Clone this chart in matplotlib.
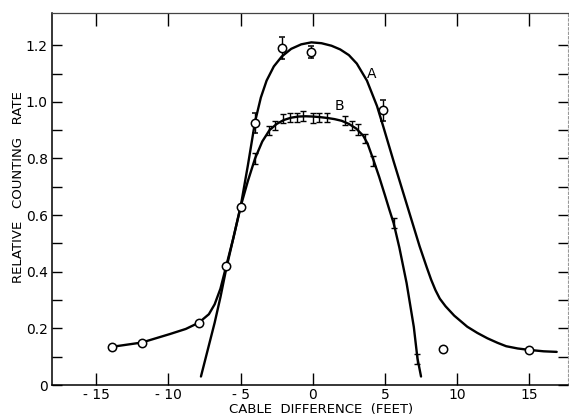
import numpy as np
import matplotlib.pyplot as plt

# measured points, curve A (open circles)
xa = [-13.9, -11.85, -7.9, -6.0, -5.0, -4.0, -2.1, -0.1, 4.85, 9.0, 15.0]
ya = [0.135, 0.15, 0.22, 0.42, 0.63, 0.925, 1.19, 1.175, 0.97, 0.128, 0.125]
ea = [0.008, 0.006, 0.0, 0.0, 0.0, 0.035, 0.04, 0.022, 0.037, 0.0, 0.0]

# measured points, curve B (error bars only)
xb = [-4.0, -3.0, -2.6, -2.05, -1.6, -1.1, -0.65, 0.0, 0.45, 0.95, 2.25, 2.7, 3.15, 3.6, 4.2, 5.6, 7.25]
yb = [0.80, 0.90, 0.918, 0.94, 0.945, 0.945, 0.95, 0.942, 0.945, 0.945, 0.935, 0.918, 0.902, 0.87, 0.79, 0.573, 0.092]
eb = [0.018, 0.016, 0.016, 0.016, 0.016, 0.016, 0.016, 0.018, 0.016, 0.016, 0.016, 0.016, 0.018, 0.016, 0.018, 0.018, 0.018]

# hand-fitted curves
ca_x = [-13.9, -11.85, -9.9, -8.8, -7.9, -7.2, -6.8, -6.4, -6.0, -5.5, -5.0, -4.5, -4.0, -3.6, -3.2, -2.7, -2.15,
        -1.5, -0.8, -0.1, 0.6, 1.3, 1.9, 2.5, 3.05, 3.75, 4.45, 4.9, 5.6, 6.2, 6.8, 7.4, 7.9, 8.2, 8.5, 8.8, 9.2,
        9.8, 10.7, 11.4, 12.1, 12.8, 13.4, 14.2, 15.0, 16.0, 16.9]
ca_y = [0.135, 0.15, 0.18, 0.198, 0.22, 0.25, 0.285, 0.34, 0.42, 0.52, 0.63, 0.775, 0.93, 1.015, 1.075, 1.125, 1.16,
        1.187, 1.203, 1.21, 1.207, 1.198, 1.185, 1.165, 1.135, 1.075, 0.985, 0.91, 0.79, 0.69, 0.59, 0.49, 0.415, 0.372,
        0.335, 0.305, 0.278, 0.245, 0.206, 0.184, 0.165, 0.149, 0.137, 0.129, 0.124, 0.119, 0.117]

cb_x = [-7.75, -7.3, -6.8, -6.4, -6.0, -5.5, -5.0, -4.5, -4.0, -3.5, -3.0, -2.5, -2.0, -1.5, -1.0, -0.5, 0.0,
        0.5, 1.0, 1.5, 2.0, 2.5, 3.0, 3.5, 3.8, 4.2, 4.6, 5.0, 5.3, 5.6, 6.0, 6.5, 7.0, 7.25, 7.5]
cb_y = [0.03, 0.12, 0.22, 0.31, 0.41, 0.52, 0.63, 0.72, 0.80, 0.86, 0.90, 0.922, 0.936, 0.944, 0.948, 0.949, 0.948,
        0.946, 0.943, 0.939, 0.933, 0.922, 0.906, 0.88, 0.852, 0.795, 0.735, 0.67, 0.62, 0.572, 0.485, 0.36,
        0.205, 0.095, 0.03]

plt.rcParams['font.family'] = 'DejaVu Sans'

fig = plt.figure(figsize=(5.69, 4.17), dpi=100)
ax = fig.add_axes([0.0914, 0.0767, 0.907, 0.891])

ax.plot(ca_x, ca_y, color='black', lw=1.7, solid_capstyle='round')
ax.plot(cb_x, cb_y, color='black', lw=1.7, solid_capstyle='round')

ax.errorbar(xb, yb, yerr=eb, fmt='none', ecolor='black', elinewidth=1.0, capsize=2.5, capthick=1.0)
ax.errorbar(xa, ya, yerr=ea, fmt='o', ms=6, mfc='white', mec='black', mew=1.1, ecolor='black',
            elinewidth=1.0, capsize=2.5, capthick=1.0, zorder=5)

ax.text(4.1, 1.10, 'A', fontsize=10, ha='center', va='center')
ax.text(1.85, 0.985, 'B', fontsize=10, ha='center', va='center')

ax.set_xlim(-18.07, 17.69)
ax.set_ylim(0, 1.312)

xt = [-15, -10, -5, 0, 5, 10, 15]
ax.set_xticks(xt)
ax.set_xticklabels(['- 15', '- 10', '- 5', '0', '5', '10', '15'])
yt = np.arange(0, 13) / 10
ax.set_yticks(yt)
ax.set_yticklabels(['0' if v == 0 else ('%.1f' % v if i % 2 == 0 else '') for i, v in enumerate(yt)])

ax.tick_params(axis='x', direction='in', length=9, width=1.0, top=True, labelsize=10, pad=2)
ax.tick_params(axis='y', direction='in', length=7, width=1.0, right=True, labelsize=10, pad=3)

for s in ['left', 'bottom']:
    ax.spines[s].set_linewidth(1.1)
ax.spines['top'].set_linewidth(0.9)
ax.spines['top'].set_color('#444444')
ax.spines['right'].set_linewidth(0.8)
ax.spines['right'].set_color('#999999')
ax.spines['right'].set_linestyle((0, (2, 2)))

fig.text(0.564, 0.019, 'CABLE  DIFFERENCE  (FEET)', fontsize=9.5, ha='center', va='center')
fig.text(0.033, 0.5516, 'RELATIVE   COUNTING   RATE', fontsize=9.5, ha='center', va='center', rotation=90)

fig.savefig('out.png', dpi=100)
